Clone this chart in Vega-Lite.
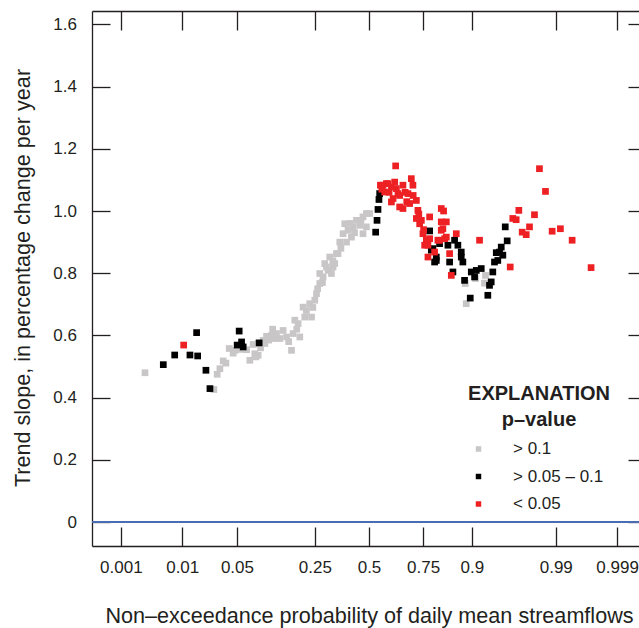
{
  "$schema": "https://vega.github.io/schema/vega-lite/v6.json",
  "width": 554,
  "height": 535,
  "autosize": {"type": "none"},
  "padding": {"left": 92, "top": 11, "right": 0, "bottom": 82},
  "background": "white",
  "config": {
    "font": "Liberation Sans, Arial, sans-serif",
    "view": {"stroke": null},
    "axis": {
      "grid": false,
      "domainColor": "#231f20",
      "tickColor": "#231f20",
      "domainWidth": 1.3,
      "tickWidth": 1.3,
      "labelColor": "#231f20",
      "titleColor": "#231f20",
      "labelFontSize": 17,
      "titleFontSize": 21.6,
      "titleFontWeight": "normal",
      "labelFlush": false,
      "labelOverlap": false,
      "zindex": 1
    }
  },
  "data": {
    "values": [
      {"z": -2.79, "v": 0.48, "p": "> 0.1"},
      {"z": -1.932, "v": 0.426, "p": "> 0.1"},
      {"z": -1.891, "v": 0.475, "p": "> 0.1"},
      {"z": -1.857, "v": 0.493, "p": "> 0.1"},
      {"z": -1.816, "v": 0.518, "p": "> 0.1"},
      {"z": -1.782, "v": 0.511, "p": "> 0.1"},
      {"z": -1.741, "v": 0.558, "p": "> 0.1"},
      {"z": -1.692, "v": 0.543, "p": "> 0.1"},
      {"z": -1.67, "v": 0.552, "p": "> 0.1"},
      {"z": -1.6, "v": 0.555, "p": "> 0.1"},
      {"z": -1.525, "v": 0.554, "p": "> 0.1"},
      {"z": -1.484, "v": 0.52, "p": "> 0.1"},
      {"z": -1.443, "v": 0.571, "p": "> 0.1"},
      {"z": -1.422, "v": 0.541, "p": "> 0.1"},
      {"z": -1.409, "v": 0.531, "p": "> 0.1"},
      {"z": -1.381, "v": 0.536, "p": "> 0.1"},
      {"z": -1.381, "v": 0.574, "p": "> 0.1"},
      {"z": -1.35, "v": 0.56, "p": "> 0.1"},
      {"z": -1.318, "v": 0.579, "p": "> 0.1"},
      {"z": -1.318, "v": 0.584, "p": "> 0.1"},
      {"z": -1.297, "v": 0.574, "p": "> 0.1"},
      {"z": -1.276, "v": 0.597, "p": "> 0.1"},
      {"z": -1.25, "v": 0.585, "p": "> 0.1"},
      {"z": -1.214, "v": 0.6, "p": "> 0.1"},
      {"z": -1.2, "v": 0.62, "p": "> 0.1"},
      {"z": -1.18, "v": 0.59, "p": "> 0.1"},
      {"z": -1.152, "v": 0.606, "p": "> 0.1"},
      {"z": -1.111, "v": 0.59, "p": "> 0.1"},
      {"z": -1.07, "v": 0.616, "p": "> 0.1"},
      {"z": -1.027, "v": 0.595, "p": "> 0.1"},
      {"z": -1.0, "v": 0.58, "p": "> 0.1"},
      {"z": -0.965, "v": 0.552, "p": "> 0.1"},
      {"z": -0.945, "v": 0.606, "p": "> 0.1"},
      {"z": -0.924, "v": 0.649, "p": "> 0.1"},
      {"z": -0.9, "v": 0.62, "p": "> 0.1"},
      {"z": -0.883, "v": 0.638, "p": "> 0.1"},
      {"z": -0.862, "v": 0.595, "p": "> 0.1"},
      {"z": -0.821, "v": 0.691, "p": "> 0.1"},
      {"z": -0.8, "v": 0.659, "p": "> 0.1"},
      {"z": -0.78, "v": 0.68, "p": "> 0.1"},
      {"z": -0.738, "v": 0.702, "p": "> 0.1"},
      {"z": -0.716, "v": 0.659, "p": "> 0.1"},
      {"z": -0.7, "v": 0.69, "p": "> 0.1"},
      {"z": -0.675, "v": 0.713, "p": "> 0.1"},
      {"z": -0.654, "v": 0.734, "p": "> 0.1"},
      {"z": -0.64, "v": 0.75, "p": "> 0.1"},
      {"z": -0.613, "v": 0.767, "p": "> 0.1"},
      {"z": -0.613, "v": 0.799, "p": "> 0.1"},
      {"z": -0.58, "v": 0.77, "p": "> 0.1"},
      {"z": -0.572, "v": 0.788, "p": "> 0.1"},
      {"z": -0.551, "v": 0.831, "p": "> 0.1"},
      {"z": -0.53, "v": 0.82, "p": "> 0.1"},
      {"z": -0.51, "v": 0.809, "p": "> 0.1"},
      {"z": -0.489, "v": 0.852, "p": "> 0.1"},
      {"z": -0.468, "v": 0.799, "p": "> 0.1"},
      {"z": -0.45, "v": 0.84, "p": "> 0.1"},
      {"z": -0.448, "v": 0.82, "p": "> 0.1"},
      {"z": -0.427, "v": 0.831, "p": "> 0.1"},
      {"z": -0.405, "v": 0.863, "p": "> 0.1"},
      {"z": -0.386, "v": 0.863, "p": "> 0.1"},
      {"z": -0.364, "v": 0.9, "p": "> 0.1"},
      {"z": -0.35, "v": 0.88, "p": "> 0.1"},
      {"z": -0.323, "v": 0.927, "p": "> 0.1"},
      {"z": -0.302, "v": 0.959, "p": "> 0.1"},
      {"z": -0.28, "v": 0.9, "p": "> 0.1"},
      {"z": -0.261, "v": 0.938, "p": "> 0.1"},
      {"z": -0.24, "v": 0.96, "p": "> 0.1"},
      {"z": -0.219, "v": 0.916, "p": "> 0.1"},
      {"z": -0.199, "v": 0.949, "p": "> 0.1"},
      {"z": -0.18, "v": 0.93, "p": "> 0.1"},
      {"z": -0.157, "v": 0.97, "p": "> 0.1"},
      {"z": -0.116, "v": 0.954, "p": "> 0.1"},
      {"z": -0.1, "v": 0.97, "p": "> 0.1"},
      {"z": -0.075, "v": 0.981, "p": "> 0.1"},
      {"z": -0.075, "v": 0.927, "p": "> 0.1"},
      {"z": -0.032, "v": 0.992, "p": "> 0.1"},
      {"z": -0.032, "v": 0.949, "p": "> 0.1"},
      {"z": 0.009, "v": 0.992, "p": "> 0.1"},
      {"z": 1.199, "v": 0.767, "p": "> 0.1"},
      {"z": 1.211, "v": 0.702, "p": "> 0.1"},
      {"z": 1.327, "v": 0.783, "p": "> 0.1"},
      {"z": 1.439, "v": 0.768, "p": "> 0.1"},
      {"z": 1.451, "v": 0.793, "p": "> 0.1"},
      {"z": 1.659, "v": 0.858, "p": "> 0.1"},
      {"z": -2.562, "v": 0.506, "p": "> 0.05 – 0.1"},
      {"z": -2.42, "v": 0.537, "p": "> 0.05 – 0.1"},
      {"z": -2.23, "v": 0.537, "p": "> 0.05 – 0.1"},
      {"z": -2.147, "v": 0.609, "p": "> 0.05 – 0.1"},
      {"z": -2.134, "v": 0.534, "p": "> 0.05 – 0.1"},
      {"z": -2.031, "v": 0.488, "p": "> 0.05 – 0.1"},
      {"z": -1.981, "v": 0.429, "p": "> 0.05 – 0.1"},
      {"z": -1.642, "v": 0.569, "p": "> 0.05 – 0.1"},
      {"z": -1.617, "v": 0.614, "p": "> 0.05 – 0.1"},
      {"z": -1.587, "v": 0.579, "p": "> 0.05 – 0.1"},
      {"z": -1.567, "v": 0.563, "p": "> 0.05 – 0.1"},
      {"z": -1.368, "v": 0.576, "p": "> 0.05 – 0.1"},
      {"z": 0.083, "v": 0.932, "p": "> 0.05 – 0.1"},
      {"z": 0.1, "v": 0.97, "p": "> 0.05 – 0.1"},
      {"z": 0.112, "v": 1.005, "p": "> 0.05 – 0.1"},
      {"z": 0.124, "v": 1.037, "p": "> 0.05 – 0.1"},
      {"z": 0.133, "v": 1.056, "p": "> 0.05 – 0.1"},
      {"z": 0.755, "v": 0.936, "p": "> 0.05 – 0.1"},
      {"z": 0.776, "v": 0.874, "p": "> 0.05 – 0.1"},
      {"z": 0.796, "v": 0.879, "p": "> 0.05 – 0.1"},
      {"z": 0.817, "v": 0.836, "p": "> 0.05 – 0.1"},
      {"z": 0.838, "v": 0.841, "p": "> 0.05 – 0.1"},
      {"z": 0.838, "v": 0.852, "p": "> 0.05 – 0.1"},
      {"z": 0.879, "v": 0.895, "p": "> 0.05 – 0.1"},
      {"z": 0.983, "v": 0.89, "p": "> 0.05 – 0.1"},
      {"z": 1.004, "v": 0.836, "p": "> 0.05 – 0.1"},
      {"z": 1.045, "v": 0.804, "p": "> 0.05 – 0.1"},
      {"z": 1.066, "v": 0.906, "p": "> 0.05 – 0.1"},
      {"z": 1.107, "v": 0.89, "p": "> 0.05 – 0.1"},
      {"z": 1.149, "v": 0.868, "p": "> 0.05 – 0.1"},
      {"z": 1.149, "v": 0.852, "p": "> 0.05 – 0.1"},
      {"z": 1.169, "v": 0.836, "p": "> 0.05 – 0.1"},
      {"z": 1.19, "v": 0.777, "p": "> 0.05 – 0.1"},
      {"z": 1.261, "v": 0.72, "p": "> 0.05 – 0.1"},
      {"z": 1.274, "v": 0.804, "p": "> 0.05 – 0.1"},
      {"z": 1.315, "v": 0.788, "p": "> 0.05 – 0.1"},
      {"z": 1.336, "v": 0.809, "p": "> 0.05 – 0.1"},
      {"z": 1.398, "v": 0.815, "p": "> 0.05 – 0.1"},
      {"z": 1.48, "v": 0.729, "p": "> 0.05 – 0.1"},
      {"z": 1.501, "v": 0.761, "p": "> 0.05 – 0.1"},
      {"z": 1.522, "v": 0.772, "p": "> 0.05 – 0.1"},
      {"z": 1.542, "v": 0.804, "p": "> 0.05 – 0.1"},
      {"z": 1.563, "v": 0.836, "p": "> 0.05 – 0.1"},
      {"z": 1.585, "v": 0.866, "p": "> 0.05 – 0.1"},
      {"z": 1.604, "v": 0.841, "p": "> 0.05 – 0.1"},
      {"z": 1.626, "v": 0.868, "p": "> 0.05 – 0.1"},
      {"z": 1.647, "v": 0.884, "p": "> 0.05 – 0.1"},
      {"z": 1.667, "v": 0.858, "p": "> 0.05 – 0.1"},
      {"z": 1.697, "v": 0.949, "p": "> 0.05 – 0.1"},
      {"z": 1.721, "v": 0.904, "p": "> 0.05 – 0.1"},
      {"z": -2.308, "v": 0.569, "p": "< 0.05"},
      {"z": 0.142, "v": 1.083, "p": "< 0.05"},
      {"z": 0.16, "v": 1.07, "p": "< 0.05"},
      {"z": 0.174, "v": 1.083, "p": "< 0.05"},
      {"z": 0.195, "v": 1.061, "p": "< 0.05"},
      {"z": 0.216, "v": 1.088, "p": "< 0.05"},
      {"z": 0.236, "v": 1.088, "p": "< 0.05"},
      {"z": 0.25, "v": 1.06, "p": "< 0.05"},
      {"z": 0.279, "v": 1.077, "p": "< 0.05"},
      {"z": 0.279, "v": 1.029, "p": "< 0.05"},
      {"z": 0.3, "v": 1.04, "p": "< 0.05"},
      {"z": 0.32, "v": 1.093, "p": "< 0.05"},
      {"z": 0.332, "v": 1.145, "p": "< 0.05"},
      {"z": 0.341, "v": 1.072, "p": "< 0.05"},
      {"z": 0.361, "v": 1.056, "p": "< 0.05"},
      {"z": 0.382, "v": 1.05, "p": "< 0.05"},
      {"z": 0.382, "v": 1.013, "p": "< 0.05"},
      {"z": 0.423, "v": 1.083, "p": "< 0.05"},
      {"z": 0.423, "v": 1.008, "p": "< 0.05"},
      {"z": 0.45, "v": 1.06, "p": "< 0.05"},
      {"z": 0.47, "v": 1.03, "p": "< 0.05"},
      {"z": 0.485, "v": 1.056, "p": "< 0.05"},
      {"z": 0.506, "v": 1.024, "p": "< 0.05"},
      {"z": 0.527, "v": 1.104, "p": "< 0.05"},
      {"z": 0.547, "v": 1.083, "p": "< 0.05"},
      {"z": 0.55, "v": 1.05, "p": "< 0.05"},
      {"z": 0.59, "v": 1.034, "p": "< 0.05"},
      {"z": 0.59, "v": 0.976, "p": "< 0.05"},
      {"z": 0.609, "v": 1.002, "p": "< 0.05"},
      {"z": 0.62, "v": 0.99, "p": "< 0.05"},
      {"z": 0.631, "v": 0.959, "p": "< 0.05"},
      {"z": 0.652, "v": 0.97, "p": "< 0.05"},
      {"z": 0.672, "v": 0.927, "p": "< 0.05"},
      {"z": 0.68, "v": 0.94, "p": "< 0.05"},
      {"z": 0.693, "v": 0.89, "p": "< 0.05"},
      {"z": 0.714, "v": 0.906, "p": "< 0.05"},
      {"z": 0.734, "v": 0.89, "p": "< 0.05"},
      {"z": 0.734, "v": 0.852, "p": "< 0.05"},
      {"z": 0.755, "v": 0.911, "p": "< 0.05"},
      {"z": 0.755, "v": 0.981, "p": "< 0.05"},
      {"z": 0.817, "v": 0.868, "p": "< 0.05"},
      {"z": 0.858, "v": 0.906, "p": "< 0.05"},
      {"z": 0.879, "v": 0.906, "p": "< 0.05"},
      {"z": 0.9, "v": 1.008, "p": "< 0.05"},
      {"z": 0.9, "v": 0.965, "p": "< 0.05"},
      {"z": 0.9, "v": 0.938, "p": "< 0.05"},
      {"z": 0.92, "v": 0.943, "p": "< 0.05"},
      {"z": 0.929, "v": 1.0, "p": "< 0.05"},
      {"z": 0.942, "v": 0.911, "p": "< 0.05"},
      {"z": 0.963, "v": 0.965, "p": "< 0.05"},
      {"z": 0.963, "v": 0.916, "p": "< 0.05"},
      {"z": 1.004, "v": 0.863, "p": "< 0.05"},
      {"z": 1.025, "v": 0.793, "p": "< 0.05"},
      {"z": 1.087, "v": 0.927, "p": "< 0.05"},
      {"z": 1.377, "v": 0.906, "p": "< 0.05"},
      {"z": 1.759, "v": 0.82, "p": "< 0.05"},
      {"z": 1.791, "v": 0.976, "p": "< 0.05"},
      {"z": 1.833, "v": 0.972, "p": "< 0.05"},
      {"z": 1.866, "v": 1.002, "p": "< 0.05"},
      {"z": 1.908, "v": 0.932, "p": "< 0.05"},
      {"z": 1.958, "v": 0.924, "p": "< 0.05"},
      {"z": 1.999, "v": 0.949, "p": "< 0.05"},
      {"z": 2.061, "v": 0.988, "p": "< 0.05"},
      {"z": 2.123, "v": 1.136, "p": "< 0.05"},
      {"z": 2.198, "v": 1.063, "p": "< 0.05"},
      {"z": 2.281, "v": 0.935, "p": "< 0.05"},
      {"z": 2.384, "v": 0.943, "p": "< 0.05"},
      {"z": 2.53, "v": 0.906, "p": "< 0.05"},
      {"z": 2.766, "v": 0.818, "p": "< 0.05"}
    ]
  },
  "layer": [
    {
      "mark": {"type": "rule", "color": "#4a6db5", "strokeWidth": 1.5},
      "encoding": {
        "y": {"datum": 0, "type": "quantitative", "axis": null}
      }
    },
    {
      "mark": {"type": "square", "size": 45, "opacity": 1, "filled": true},
      "encoding": {
        "x": {
          "field": "z",
          "type": "quantitative",
          "scale": {"domain": [-3.45, 3.45], "nice": false, "zero": false},
          "axis": {
            "orient": "bottom",
            "values": [-3.0902, -2.3263, -1.6449, -0.6745, 0, 0.6745, 1.2816, 2.3263, 3.0902],
            "labelExpr": "datum.value < -3 ? '0.001' : datum.value < -2 ? '0.01' : datum.value < -1 ? '0.05' : datum.value < -0.5 ? '0.25' : datum.value < 0.5 ? '0.5' : datum.value < 1 ? '0.75' : datum.value < 2 ? '0.9' : datum.value < 3 ? '0.99' : '0.999'",
            "tickSize": -19,
            "labelPadding": 32,
            "title": "Non–exceedance probability of daily mean streamflows",
            "titleX": 277,
            "titleY": 70.5,
            "titleAlign": "center",
            "titleBaseline": "middle"
          }
        },
        "y": {
          "field": "v",
          "type": "quantitative",
          "scale": {"domain": [-0.077, 1.643], "nice": false, "zero": false},
          "axis": {
            "orient": "left",
            "values": [0, 0.2, 0.4, 0.6, 0.8, 1.0, 1.2, 1.4, 1.6],
            "labelExpr": "datum.value == 0 ? '0' : format(datum.value, '.1f')",
            "tickSize": -18,
            "labelPadding": 33.5,
            "title": "Trend slope, in percentage change per year",
            "titleX": -68.7,
            "titleY": 266.5,
            "titleAngle": -90,
            "titleAlign": "center",
            "titleBaseline": "middle"
          }
        },
        "color": {
          "field": "p",
          "type": "nominal",
          "sort": null,
          "scale": {
            "domain": ["> 0.1", "> 0.05 – 0.1", "< 0.05"],
            "range": ["#c8c6c6", "#000000", "#ed2024"]
          },
          "legend": {
            "orient": "none",
            "legendX": 376,
            "legendY": 372.5,
            "title": ["EXPLANATION", "p–value"],
            "titleFontSize": 20,
            "titleFontWeight": "bold",
            "titleAnchor": "middle",
            "titleAlign": "center",
            "titleLineHeight": 26,
            "titlePadding": 11,
            "titleColor": "#231f20",
            "symbolType": "square",
            "symbolSize": 30,
            "symbolOffset": -4,
            "symbolStrokeWidth": 0,
            "labelOffset": 26,
            "labelFontSize": 17,
            "labelColor": "#231f20",
            "rowPadding": 9.5,
            "padding": 0
          }
        }
      }
    },
    {
      "mark": {"type": "point", "opacity": 0},
      "encoding": {
        "x": {
          "field": "z",
          "type": "quantitative",
          "axis": {
            "orient": "top",
            "values": [-3.0902, -2.3263, -1.6449, -0.6745, 0, 0.6745, 1.2816, 2.3263, 3.0902],
            "tickSize": -19,
            "labels": false,
            "title": null
          }
        },
        "y": {
          "field": "v",
          "type": "quantitative",
          "axis": {
            "orient": "right",
            "values": [0, 0.2, 0.4, 0.6, 0.8, 1.0, 1.2, 1.4, 1.6],
            "tickSize": -18,
            "labels": false,
            "title": null
          }
        }
      }
    }
  ],
  "resolve": {"axis": {"x": "independent", "y": "independent"}}
}
